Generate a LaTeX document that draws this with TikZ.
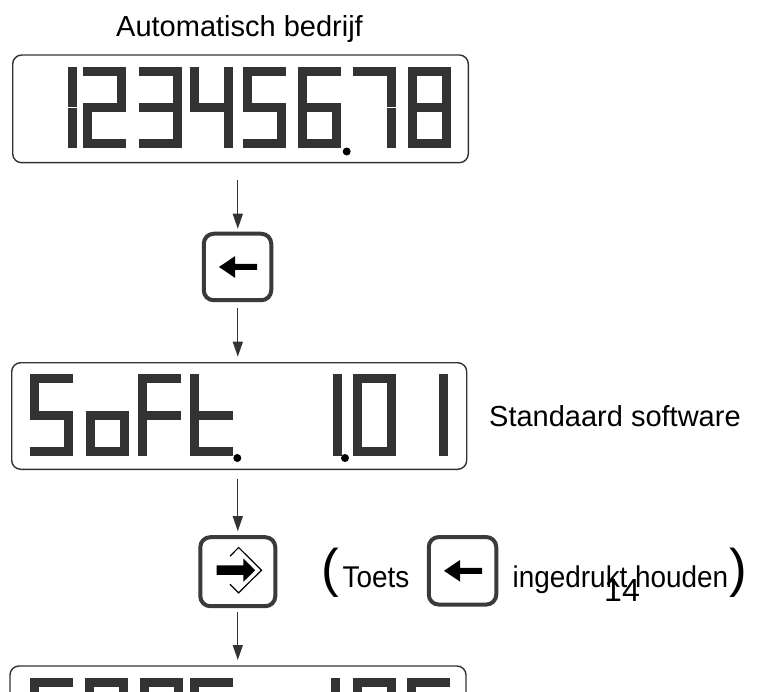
\documentclass[tikz,border=0pt]{standalone}
\usepackage{fontspec}
\setmainfont{Liberation Sans}
\newfontfamily\narrowfont[FakeStretch=0.93]{Liberation Sans}
\usetikzlibrary{arrows.meta}
\definecolor{lcdc}{HTML}{333333}
\definecolor{framec}{HTML}{333333}
\definecolor{keyc}{HTML}{3A3A3A}
% seven-segment pieces (W=43, H=81.5, T=9)
\newcommand\SegA[2]{\fill[lcdseg,shift={(#1,#2)}] (0,0) rectangle (43,9);}
\newcommand\SegB[2]{\fill[lcdseg,shift={(#1,#2)}] (34,0) rectangle (43,40.45);}
\newcommand\SegC[2]{\fill[lcdseg,shift={(#1,#2)}] (34,41.05) rectangle (43,81.5);}
\newcommand\SegD[2]{\fill[lcdseg,shift={(#1,#2)}] (0,72.5) rectangle (43,81.5);}
\newcommand\SegE[2]{\fill[lcdseg,shift={(#1,#2)}] (0,41.05) rectangle (9,81.5);}
\newcommand\SegF[2]{\fill[lcdseg,shift={(#1,#2)}] (0,0) rectangle (9,40.45);}
\newcommand\SegG[2]{\fill[lcdseg,shift={(#1,#2)}] (0,36.25) rectangle (43,45.25);}
\newcommand\LCD[3]{\foreach \s in {#3}{\csname Seg\s\endcsname{#1}{#2}}}
\tikzset{
  lcdseg/.style={fill=lcdc},
  display/.style={draw=framec, line width=1.4pt, rounded corners=9pt, inner sep=0pt, outer sep=0pt},
  keybox/.style={draw=keyc, line width=4pt, rounded corners=10pt, inner sep=0pt, outer sep=0pt},
  arr/.style={draw=lcdc, line width=1.3pt, -{Triangle[length=15pt,width=10pt]}},
  lcddot/.style={fill=black},
  bigtxt/.style={font=\fontsize{29}{35}\selectfont, inner sep=0pt},
  midtxt/.style={font=\narrowfont\fontsize{30}{36}\selectfont, inner sep=0pt},
  paren/.style={font=\fontsize{53}{60}\selectfont, inner sep=0pt},
  leftarr/.pic={\fill[black] (-18.5,0) -- (-2.5,-10.8) -- (-2.5,-3) -- (19.5,-3) -- (19.5,3) -- (-2.5,3) -- (-2.5,10.8) -- cycle;},
  enterarr/.pic={\fill[black] (-21.3,-4.75) -- (5.5,-4.75) -- (5.5,-11.7) -- (17.4,0) -- (5.5,11.7) -- (5.5,4.75) -- (-21.3,4.75) -- cycle;
    \draw[black, line width=1.2pt, line join=miter] (-7.8,-14) -- (0.8,-22.7) -- (23.7,0) -- (0.8,22.7) -- (-7.8,14);}
}
\begin{document}
\begin{tikzpicture}[x=1pt,y=-1pt]
\useasboundingbox (0,0) rectangle (757,692);
\clip (0,0) rectangle (757,692);
\fill[white] (0,0) rectangle (757,692);

% title
\node[bigtxt, anchor=base] (title) at (239.5,37) {Automatisch bedrijf};

% displays
\node[display, minimum width=455.6pt, minimum height=107.7pt] (d1) at (240.5,108.85) {};
\node[display, minimum width=455pt, minimum height=106.6pt] (d2) at (239.2,416) {};
\node[display, minimum width=456pt, minimum height=107pt] (d3) at (238,719.5) {};

% keys
\node[keybox, minimum width=67.5pt, minimum height=66.5pt] (k1) at (237.5,267) {};
\node[keybox, minimum width=75pt, minimum height=69pt] (k2) at (237.8,571.7) {};
\node[keybox, minimum width=67.5pt, minimum height=67.5pt] (k3) at (462.5,570.8) {};
\pic at (k1.center) {leftarr};
\pic at (k3.center) {leftarr};
\pic at ([yshift=1.5pt]k2.center) {enterarr};

% display 1 : 12345678
\LCD{34.3}{66.7}{B,C}
\LCD{83.3}{66.7}{A,B,G,E,D}
\LCD{139.3}{66.7}{A,B,G,C,D}
\LCD{190}{66.7}{F,G,B,C}
\LCD{243.3}{66.7}{A,F,G,C,D}
\LCD{298.3}{66.7}{A,F,E,G,C,D}
\LCD{353.3}{66.7}{A,B,C}
\LCD{408.3}{66.7}{A,B,C,D,E,F,G}
\fill[lcddot] (346.7,151.5) circle (4);

% display 2 : SoFt. 1.01
\LCD{30}{374.4}{A,F,G,C,D}
\LCD{85.5}{374.4}{G,C,D,E}
\LCD{138.3}{374.4}{A,F,E,G}
\LCD{190}{374.4}{F,E,G,D}
\LCD{298.7}{374.4}{B,C}
\LCD{353.3}{374.4}{A,B,C,D,E,F}
\LCD{404.7}{374.4}{B,C}
\fill[lcddot] (237.3,458) circle (4);
\fill[lcddot] (345,458) circle (4);

% display 3 (cut off)
\LCD{30}{677.7}{A,F,G,C,D}
\LCD{85}{677.7}{A,B,C,D,E,F}
\LCD{140}{677.7}{A,B,C,D,E,F}
\LCD{190}{677.7}{A,F,G,E,D}
\LCD{297}{677.7}{B,C}
\LCD{353}{677.7}{A,B,C,D,E,F}
\LCD{407}{677.7}{A,F,G,C,D}

% connectors
\draw[arr, shorten <=17pt, shorten >=5pt] (d1.south -| k2.center) -- (k1.north -| k2.center);
\draw[arr, shorten <=8pt, shorten >=6pt] (k1.south -| k2.center) -- (d2.north -| k2.center);
\draw[arr, shorten <=10pt, shorten >=6pt] (d2.south -| k2.center) -- (k2.north);
\draw[arr, shorten <=6pt, shorten >=6pt] (k2.south) -- (d3.north -| k2.center);

% texts
\node[bigtxt, anchor=base west] (std) at (489,426.7) {Standaard software};
\node[paren, anchor=base west] (lp) at (321.7,586.6) {(};
\node[midtxt, anchor=base west] (toets) at (342.5,587.5) {Toets};
\node[midtxt, anchor=base west] (inged) at (512.5,587.5) {ingedrukt houden};
\node[paren, anchor=base west] (rp) at (729,586.6) {)};
\node[font=\fontsize{32}{36}\selectfont, inner sep=0pt, anchor=base west] (pg) at (604,601) {14};
\end{tikzpicture}
\end{document}
